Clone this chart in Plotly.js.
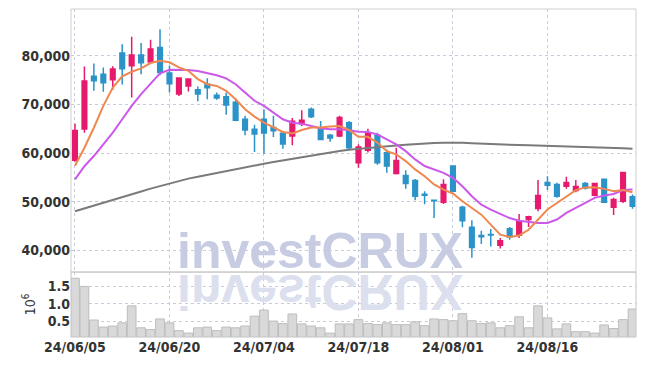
<!DOCTYPE html>
<html>
<head>
<meta charset="utf-8">
<script src="https://cdn.plot.ly/plotly-3.0.1.min.js"></script>
<style>
  html, body { margin:0; padding:0; background:#fff; }
  #wrap { position:relative; width:645px; height:366px; }
  #chart { position:absolute; left:0; top:0; width:645px; height:366px; }
  .wm { position:absolute; left:177px; top:232.5px; height:36px; font-family:"Liberation Sans", Arial, sans-serif;
        font-weight:bold; font-size:50px; line-height:36px; white-space:nowrap; pointer-events:none; }
  #wm1 { color:#c7cce3; }
  #wm2 { color:#dcdfed; transform-origin:0 38.5px; transform:scaleY(-1); }
</style>
</head>
<body>
<div id="wrap">
  <div id="chart"></div>
  <div class="wm" id="wm2">investCRUX</div>
  <div class="wm" id="wm1">investCRUX</div>
</div>
<script>
const dates = ["24/06/05","24/06/07","24/06/10","24/06/11","24/06/12","24/06/13","24/06/14","24/06/17","24/06/18","24/06/19",
  "24/06/20","24/06/21","24/06/24","24/06/25","24/06/26","24/06/27","24/06/28","24/07/01","24/07/02","24/07/03",
  "24/07/04","24/07/05","24/07/08","24/07/09","24/07/10","24/07/11","24/07/12","24/07/15","24/07/16","24/07/17",
  "24/07/18","24/07/19","24/07/22","24/07/23","24/07/24","24/07/25","24/07/26","24/07/29","24/07/30","24/07/31",
  "24/08/01","24/08/02","24/08/05","24/08/06","24/08/07","24/08/08","24/08/09","24/08/12","24/08/13","24/08/14",
  "24/08/16","24/08/19","24/08/20","24/08/21","24/08/22","24/08/23","24/08/26","24/08/27","24/08/28","24/08/29"];

const openP  = [58550,64950,75800,76200,75050,80550,77950,80150,78700,81700,
  76450,72150,73800,73000,74150,71900,71550,70450,66950,64900,
  66950,65250,64050,63500,66050,69000,64900,63650,63500,66250,
  58000,60600,63650,60050,55800,55400,54350,51550,50300,49900,
  57350,48850,44750,43050,43300,41050,44450,43100,46350,48600,
  53950,53550,53200,52300,53750,51350,54600,48850,50100,51050];
const highP  = [66050,77800,78400,77600,77850,82350,83900,82600,83300,85450,
  77950,75550,75350,73700,75350,72450,72450,71200,67650,65800,
  69000,67650,64550,67200,68800,69350,66600,63900,67650,66600,
  61800,65000,64200,60750,61100,56450,54700,52150,50450,54600,
  57350,49200,46200,44050,44400,42550,44800,47500,47150,54450,
  55250,53900,55150,54450,54050,53900,54600,50800,56000,51500];
const lowP   = [58200,64200,72800,72600,73000,74100,71400,76200,78500,76000,
  72450,71750,72650,70650,71050,70950,67900,66550,63650,60200,
  59850,63300,60900,61600,65550,67200,62700,62350,63250,60750,
  57000,60100,57600,55950,55600,52650,50300,49500,46650,49550,
  51950,44750,38500,41300,40800,40400,42200,42550,44800,48050,
  52400,50800,52650,51950,52500,51150,49900,47300,49750,48550];
const closeP = [64650,74800,74850,74450,77250,77300,80150,78550,81400,76550,
  74250,75400,75200,72150,73400,71300,69900,66750,64750,63900,
  64150,64600,61850,66550,66750,67450,62800,63100,67300,61100,
  61250,64050,58000,57350,58500,53750,51150,51350,50200,53550,
  52150,46100,40600,42800,43150,42000,42750,45900,46900,51300,
  53400,51150,53950,53150,52850,53750,49900,50450,56000,49100];

const ma5  = [57400,61100,65200,69700,73450,75750,76700,77400,78500,78950,
  78650,77600,76900,75200,74150,73800,72800,71050,69000,67500,
  66250,65250,64350,64050,64750,65250,65250,65450,65550,64750,
  63350,63350,62150,60400,59750,58350,56650,55250,53550,52500,
  51700,50100,48750,47350,45300,43250,42750,43050,44250,46350,
  48400,49750,51150,52400,52950,53000,52650,52150,52400,51950];
const ma10 = [54600,57300,59400,61800,64200,66950,69700,72100,74350,76400,
  77100,77100,77050,76850,76450,76000,75350,74150,72450,70750,
  69700,68300,66950,66250,66050,65550,65100,64900,64900,64700,
  64400,64350,63850,62800,61800,60400,58700,57350,56650,55950,
  54900,53200,51150,49400,48400,47550,46650,46100,45800,45650,
  45650,46350,47700,48750,49750,50800,51300,51600,52400,52500];
const ma60 = [48040,48600,49150,49700,50300,50900,51500,52100,52700,53250,
  53800,54300,54750,55150,55550,55950,56350,56750,57100,57450,
  57800,58150,58500,58850,59200,59550,59900,60200,60450,60700,
  60900,61100,61250,61400,61550,61700,61850,61950,62050,62100,
  62150,62100,62000,61900,61800,61750,61700,61650,61600,61550,
  61500,61470,61430,61380,61320,61250,61180,61100,61000,60900];

const volume = [1720000,1490000,540000,340000,370000,460000,940000,320000,270000,570000,
  460000,240000,170000,320000,340000,240000,340000,320000,370000,650000,
  820000,510000,440000,710000,430000,370000,320000,170000,430000,430000,
  550000,440000,410000,460000,410000,410000,490000,380000,570000,550000,
  520000,720000,520000,440000,460000,320000,380000,630000,320000,940000,
  600000,290000,430000,210000,210000,170000,400000,300000,550000,850000];

const tickIdx = [0,10,20,30,40,50];
const tickVals = tickIdx.map(i => dates[i]);
const priceTicks = [40000,50000,60000,70000,80000];
const volTicks = [500000,1000000,1500000];
const volTickText = ["0.5","1.0","1.5"];

const UP = "#e61a6c", DOWN = "#2b93c8";
const labelFont = {family:"Liberation Sans Narrow, DejaVu Sans Condensed, Arial Narrow, sans-serif", size:14, color:"#333333", weight:"bold"};
const gridC = "#c9cbdd";

const traces = [
  {type:"scatter", mode:"lines", x:dates, y:ma60, xaxis:"x", yaxis:"y", line:{color:"#7a7a7a", width:2}, hoverinfo:"skip"},
  {type:"scatter", mode:"lines", x:dates, y:ma10, xaxis:"x", yaxis:"y", line:{color:"#cc58ea", width:2}, hoverinfo:"skip"},
  {type:"scatter", mode:"lines", x:dates, y:ma5, xaxis:"x", yaxis:"y", line:{color:"#ef8850", width:2}, hoverinfo:"skip"},
  {type:"candlestick", x:dates, open:openP, high:highP, low:lowP, close:closeP, xaxis:"x", yaxis:"y",
   increasing:{line:{color:UP, width:1.5}, fillcolor:UP},
   decreasing:{line:{color:DOWN, width:1.5}, fillcolor:DOWN},
   whiskerwidth:0},
  {type:"bar", x:dates, y:volume, xaxis:"x", yaxis:"y2", marker:{color:"#d9d9d9", line:{color:"#bdbdbd", width:1}}}
];

const layout = {
  width:645, height:366,
  margin:{l:71, r:9, t:9, b:29, pad:0},
  paper_bgcolor:"#ffffff", plot_bgcolor:"#ffffff",
  showlegend:false, bargap:0.08, boxgap:0.3,
  xaxis:{type:"category", anchor:"y2", range:[-0.42, 59.37], tickmode:"array", tickvals:tickVals, ticktext:tickVals,
    showgrid:true, gridcolor:gridC, griddash:"dot", gridwidth:1, ticks:"", tickfont:labelFont,
    rangeslider:{visible:false}, zeroline:false, showline:false, fixedrange:true},
  yaxis:{domain:[0.198,1], range:[35560,89600], tickmode:"array", tickvals:priceTicks, tickformat:",d",
    showgrid:true, gridcolor:gridC, griddash:"dot", ticks:"", tickfont:labelFont, zeroline:false, showline:false, fixedrange:true},
  yaxis2:{domain:[0,0.198], range:[60000,1895000], tickmode:"array", tickvals:volTicks, ticktext:volTickText,
    showgrid:true, gridcolor:gridC, griddash:"dot", ticks:"", tickfont:labelFont, zeroline:false, showline:false, fixedrange:true,
    title:{text:"10<sup>6</sup>", font:{family:"Liberation Sans Narrow, DejaVu Sans Condensed, sans-serif", size:14, color:"#333333"}, standoff:8}},
  shapes:[
    {type:"rect", xref:"paper", yref:"paper", x0:0, x1:1, y0:0.198, y1:1, line:{color:"#cfcfcf", width:1}, layer:"above"},
    {type:"rect", xref:"paper", yref:"paper", x0:0, x1:1, y0:0, y1:0.198, line:{color:"#c4c4c4", width:1}, layer:"above"}
  ]
};

Plotly.newPlot("chart", traces, layout, {staticPlot:true, displayModeBar:false});
</script>
</body>
</html>
